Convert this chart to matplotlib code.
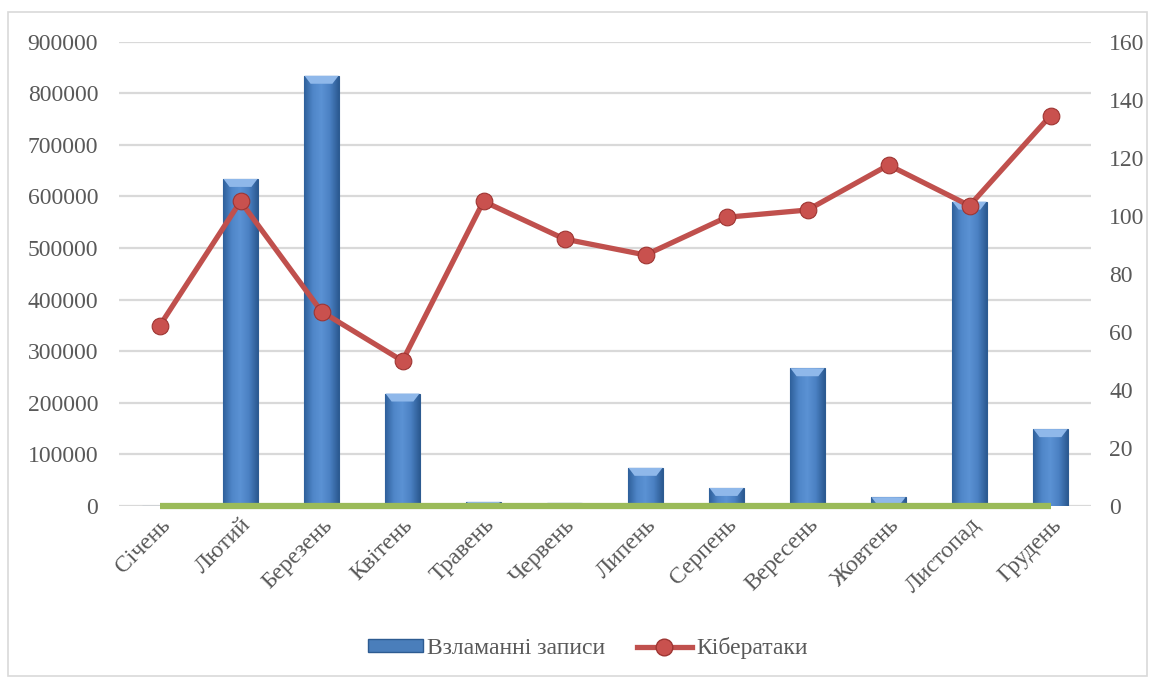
import numpy as np
import matplotlib
matplotlib.use("Agg")
import matplotlib.pyplot as plt
from matplotlib.patches import Polygon, Rectangle
from matplotlib.colors import LinearSegmentedColormap
from matplotlib.lines import Line2D

months = ["Січень", "Лютий", "Березень", "Квітень", "Травень", "Червень",
          "Липень", "Серпень", "Вересень", "Жовтень", "Листопад", "Грудень"]
breached_records = [0, 634000, 834000, 218000, 8000, 6000,
                    74000, 35000, 267000, 17000, 590000, 149000]
cyberattacks = [62, 105, 67, 50, 105, 92, 86.5, 99.5, 102, 117.5, 103.5, 134.5]
baseline = [0] * 12

left_ticks = list(range(0, 900001, 100000))
right_ticks = list(range(0, 161, 20))

plt.rcParams["font.family"] = ["Liberation Serif", "DejaVu Serif"]
TXT = "#595959"
GRID = "#d9d9d9"
FS = 17

fig = plt.figure(figsize=(11.49, 6.77), dpi=100)
ax = fig.add_axes([119 / 1149, 1 - 506 / 677, (1091 - 119) / 1149, (506 - 41.7) / 677])
ax2 = ax.twinx()

x = np.arange(len(months))
bw = 0.42
bars = ax.bar(x, breached_records, width=bw, color="#4a7ebb",
              edgecolor="#2d5b91", linewidth=0.8, zorder=2)

# side-lit gradient inside each bar
grad = LinearSegmentedColormap.from_list(
    "barshade", ["#2f609b", "#4f86c8", "#5b92d4", "#4a80c2", "#2c5a92"])
gimg = np.linspace(0, 1, 64).reshape(1, -1)
for b in bars:
    h = b.get_height()
    if h <= 0:
        continue
    x0, w = b.get_x(), b.get_width()
    im = ax.imshow(gimg, cmap=grad, aspect="auto",
                   extent=(x0, x0 + w, 0, h), zorder=2.1)
    im.set_clip_path(b)
    bh = min(15500, h)
    bevel = Polygon([(x0, h), (x0 + w, h), (x0 + w * 0.82, h - bh),
                     (x0 + w * 0.18, h - bh)], closed=True,
                    facecolor="#8fb8ea", edgecolor="none", zorder=2.2)
    ax.add_patch(bevel)

ax.plot(x, baseline, color="#9bbb59", linewidth=4.5, solid_capstyle="butt",
        zorder=3, clip_on=False)

ax.set_xlim(-0.5, len(months) - 0.5)
ax.set_ylim(0, 900000)
ax.set_yticks(left_ticks)
ax.set_yticklabels([str(v) for v in left_ticks])
ax.yaxis.grid(True, color=GRID, linewidth=1.6)
ax.set_axisbelow(True)

ax2.plot(x, cyberattacks, color="#c0504d", linewidth=3.8, marker="o",
         markersize=12, markerfacecolor="#c9514e", markeredgecolor="#9e3532",
         markeredgewidth=0.8, zorder=5)
ax2.set_ylim(0, 160)
ax2.set_yticks(right_ticks)
ax2.set_yticklabels([str(v) for v in right_ticks])

for a in (ax, ax2):
    for s in a.spines.values():
        s.set_visible(False)
    a.tick_params(axis="both", length=0, labelsize=FS, labelcolor=TXT)
ax.tick_params(axis="y", pad=15)
ax2.tick_params(axis="y", pad=13)

ax.set_xticks(x)
ax.set_xticklabels(months, rotation=45, ha="right", va="top",
                   rotation_mode="anchor", fontsize=FS, color=TXT)
ax.tick_params(axis="x", pad=6)

ax.set_zorder(ax2.get_zorder() - 1)
ax2.patch.set_visible(False)

handles = [Rectangle((0, 0), 1, 1, facecolor="#4a7ebb", edgecolor="#2d5b91"),
           Line2D([], [], color="#c0504d", linewidth=3.8, marker="o",
                  markersize=12, markerfacecolor="#c9514e",
                  markeredgecolor="#9e3532")]
fig.legend(handles, ["Взламанні записи", "Кібератаки"], loc="center",
           bbox_to_anchor=(588 / 1149, 1 - 648 / 677), ncol=2, frameon=False,
           fontsize=FS, labelcolor=TXT, handlelength=2.3, handleheight=0.45,
           handletextpad=0.2, columnspacing=1.35)

fig.patches.append(Rectangle((8 / 1149, 1 - 676 / 677), 1139 / 1149, 664 / 677,
                             transform=fig.transFigure, fill=False,
                             edgecolor=GRID, linewidth=1.2))

fig.savefig("out.png", dpi=100)
